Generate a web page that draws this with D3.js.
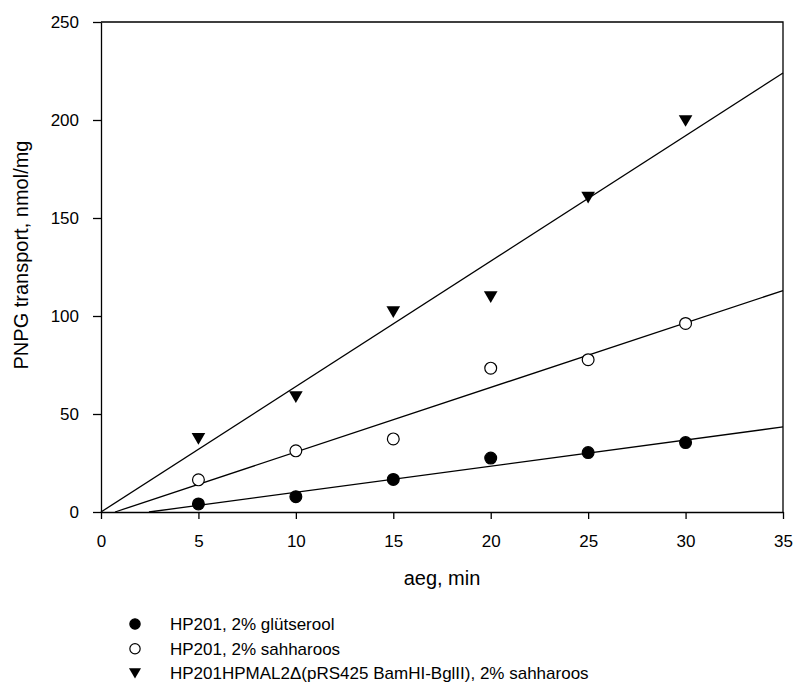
<!DOCTYPE html>
<html>
<head>
<meta charset="utf-8">
<script src="https://cdn.jsdelivr.net/npm/d3@7"></script>
<style>
  body { margin: 0; background: #fff; }
  text { font-family: "Liberation Sans", Arial, sans-serif; fill: #000; }
</style>
</head>
<body>
<div id="chart"></div>
<script>
// time points (min)
const times = [5, 10, 15, 20, 25, 30];

// PNPG transport, nmol/mg
const glycerol = [4.1, 7.8, 16.6, 27.5, 30.3, 35.4];
const sucrose = [16.4, 31.2, 37.3, 73.4, 77.7, 96.2];
const mutant = [37.3, 58.6, 102, 109.6, 160.4, 199.5];

// regression lines: [x0, y0, x1, y1]
const fitGlycerol = [2.46, 0, 35, 43.4];
const fitSucrose = [0.72, 0, 35, 113];
const fitMutant = [0, 0, 35, 224];

const seriesNames = [
    "HP201, 2% glütserool",
    "HP201, 2% sahharoos",
    "HP201HPMAL2Δ(pRS425 BamHI-BglII), 2% sahharoos"
];
const seriesMarkers = ["filled", "open", "triangle"];

const xTicks = [0, 5, 10, 15, 20, 25, 30, 35];
const yTicks = [0, 50, 100, 150, 200, 250];

const width = 795;
const height = 682;
const margin = {top: 22, right: 12, bottom: 170, left: 101};

const x = d3.scaleLinear()
    .domain([0, 35])
    .range([margin.left, width - margin.right]);

const y = d3.scaleLinear()
    .domain([0, 250])
    .range([height - margin.bottom, margin.top]);

const svg = d3.select("#chart")
    .append("svg")
    .attr("width", width)
    .attr("height", height);

// frame: top and right lines
svg.append("path")
    .attr("d", `M${x(0)},${y(250)}H${x(35)}V${y(0)}`)
    .attr("fill", "none")
    .attr("stroke", "#000")
    .attr("stroke-width", 1.3);

// x axis
const xAxis = svg.append("g")
    .attr("transform", `translate(0,${y(0)})`)
    .call(d3.axisBottom(x).tickValues(xTicks).tickSize(7).tickPadding(16).tickSizeOuter(0));

// y axis
const yAxis = svg.append("g")
    .attr("transform", `translate(${x(0)},0)`)
    .call(d3.axisLeft(y).tickValues(yTicks).tickSize(8).tickPadding(14).tickSizeOuter(0));

[xAxis, yAxis].forEach(g => {
    g.selectAll("path, line").attr("stroke", "#000").attr("stroke-width", 1.3);
    g.selectAll("text").attr("font-size", 17).attr("font-family", null);
});

// axis titles
svg.append("text")
    .attr("x", (x(0) + x(35)) / 2)
    .attr("y", 585)
    .attr("text-anchor", "middle")
    .attr("font-size", 20)
    .text("aeg, min");

svg.append("text")
    .attr("transform", `translate(28,${(y(0) + y(250)) / 2 - 12}) rotate(-90)`)
    .attr("text-anchor", "middle")
    .attr("font-size", 20)
    .text("PNPG transport, nmol/mg");

// regression lines
const fits = [fitGlycerol, fitSucrose, fitMutant];
svg.append("g")
    .selectAll("line")
    .data(fits)
    .join("line")
    .attr("x1", d => x(d[0]))
    .attr("y1", d => y(d[1]))
    .attr("x2", d => x(d[2]))
    .attr("y2", d => y(d[3]))
    .attr("stroke", "#000")
    .attr("stroke-width", 1.3);

// marker drawing
function drawMarker(sel, type, size) {
    if (type === "triangle") {
        const w = size * 1.05, h = size * 0.9;
        sel.append("path")
            .attr("d", `M${-w / 2},${-h / 2}L${w / 2},${-h / 2}L0,${h / 2}Z`)
            .attr("fill", "#000");
    } else {
        sel.append("circle")
            .attr("r", size / 2 - 0.6)
            .attr("fill", type === "filled" ? "#000" : "#fff")
            .attr("stroke", "#000")
            .attr("stroke-width", 1.2);
    }
}

// scatter points
const allSeries = [glycerol, sucrose, mutant];
allSeries.forEach((vals, i) => {
    svg.append("g")
        .selectAll("g")
        .data(vals)
        .join("g")
        .attr("transform", (d, j) => `translate(${x(times[j])},${y(d)})`)
        .each(function() { drawMarker(d3.select(this), seriesMarkers[i], 13); });
});

// legend
const legend = svg.append("g")
    .selectAll("g")
    .data(seriesNames)
    .join("g")
    .attr("transform", (d, i) => `translate(135,${624 + i * 24.7})`);

legend.each(function(d, i) { drawMarker(d3.select(this), seriesMarkers[i], 11.5); });

legend.append("text")
    .attr("x", 35)
    .attr("y", 6)
    .attr("font-size", 17)
    .text(d => d);
</script>
</body>
</html>
